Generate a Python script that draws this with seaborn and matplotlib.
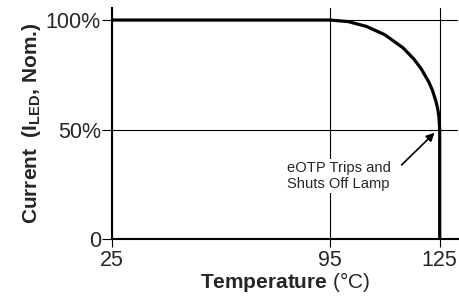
import numpy as np
import matplotlib
matplotlib.use("Agg")
import matplotlib.pyplot as plt
import seaborn as sns

# Data
temps = [25, 95, 100, 105, 110, 115, 118, 120, 122, 123, 124, 124.5, 124.8, 125, 125]
current = [100, 100, 99.3, 97.1, 93.3, 87.3, 82.1, 77.6, 71.8, 68.0, 62.8, 59.1, 55.8, 50, 0]
x_ticks = [25, 95, 125]
x_ticklabels = ["25", "95", "125"]
y_ticks = [0, 50, 100]
y_ticklabels = ["0", "50%", "100%"]
note_text = "eOTP Trips and\nShuts Off Lamp"

sns.set_style("white")
plt.rcParams["font.family"] = ["Liberation Sans", "DejaVu Sans"]
plt.rcParams["mathtext.fontset"] = "custom"
plt.rcParams["mathtext.rm"] = "Liberation Sans"
plt.rcParams["mathtext.bf"] = "Liberation Sans:bold"

fig = plt.figure(figsize=(4.59, 2.99), dpi=100)
ax = fig.add_axes([112/459, 1-239/299, 346/459, 231/299])

# piecewise-linear x scale (axis in reference is not uniform)
K = (110/30) / (218/70)
def fwd(x):
    x = np.asarray(x, float)
    return np.where(x <= 95, x - 25, 70 + (x - 95) * K)
def inv(u):
    u = np.asarray(u, float)
    return np.where(u <= 70, u + 25, 95 + (u - 70) / K)
ax.set_xscale("function", functions=(fwd, inv))

sns.lineplot(x=temps, y=current, sort=False, estimator=None, color="black",
             linewidth=2.3, ax=ax, zorder=3)

ax.set_xlim(25, 130)
ax.set_ylim(0, 105.5)
ax.set_xticks(x_ticks)
ax.set_xticklabels(x_ticklabels)
ax.set_yticks(y_ticks)
ax.set_yticklabels(y_ticklabels)

ax.grid(True, color="black", linewidth=0.8)
for s in ["top", "right"]:
    ax.spines[s].set_visible(False)
for s in ["left", "bottom"]:
    ax.spines[s].set_color("black")
    ax.spines[s].set_linewidth(1.5)
ax.tick_params(axis="y", length=7, width=0.8, color="black", pad=1, labelsize=15.5, direction="out", left=True)
ax.tick_params(axis="x", length=6, width=0.8, color="black", pad=2, labelsize=15.5, direction="out", bottom=True)

ax.set_xlabel(r"$\mathbf{Temperature}$ (°C)", fontsize=15, labelpad=-1)
ax.set_ylabel(r"Current  ($\mathbf{I}_{\mathbf{LED}}$, Nom.)", fontsize=15, fontweight="bold", labelpad=2)

ax.text(81.2, 28.8, note_text, fontsize=10.6, ha="left", va="center", linespacing=1.2,
        bbox=dict(boxstyle="square,pad=0.1", fc="white", ec="none"), zorder=4)
ax.annotate("", xy=(123.6, 48.5), xytext=(114.6, 33.8),
            arrowprops=dict(arrowstyle="-|>", color="black", lw=1.2,
                            shrinkA=0, shrinkB=0, mutation_scale=12),
            zorder=4)

fig.savefig("out.png", dpi=100)
